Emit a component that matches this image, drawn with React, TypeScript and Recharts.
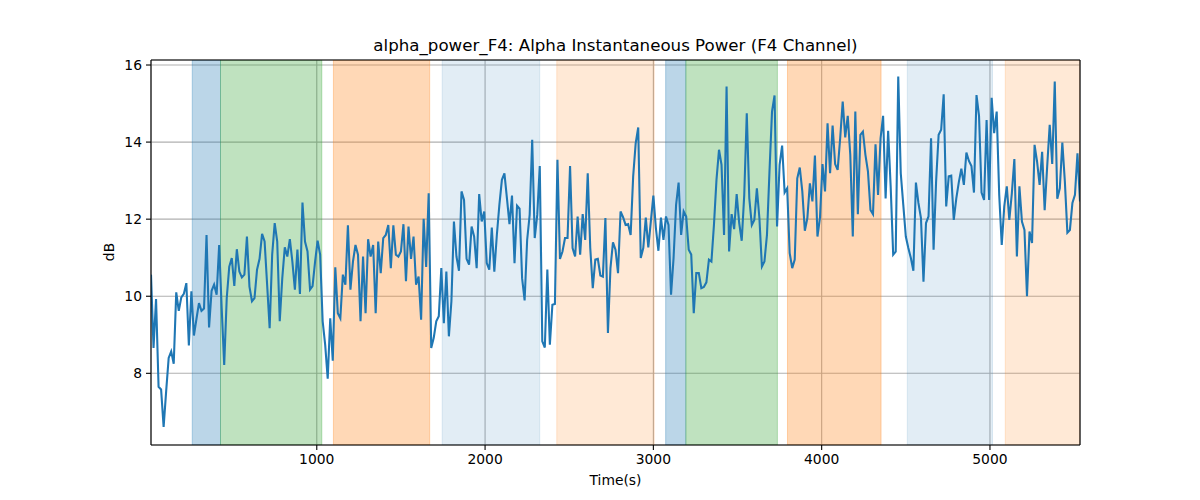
import { CartesianGrid, Line, LineChart, ReferenceArea, ReferenceLine, XAxis, YAxis } from 'recharts';

// sampling of the alpha power trace (seconds)
const T_START = 15;
const T_STEP = 15;

// dB values, read in order from left to right
const dbSeg1 = [
  10.56, 8.66, 9.93, 7.65, 7.58, 6.61, 7.53, 8.4, 8.57, 8.25, 10.1, 9.62, 9.97, 10.06, 10.34, 8.72,
  10.13, 8.98, 9.41, 9.82, 9.62, 9.68, 11.59, 9.19, 10.14, 10.3, 10.04, 11.33, 9.69, 8.22, 9.95, 10.77,
  10.99, 10.27, 11.22, 10.64, 10.49, 10.56, 11.55, 10.25, 9.87, 9.95, 10.69, 10.97, 11.62, 11.42, 10.3, 9.17,
  11.08, 11.9, 11.42, 9.35, 10.47, 11.27, 11.03, 11.48, 10.9, 10.17, 11.21, 10.06, 12.43, 11.42, 11.16, 10.17,
];
const dbSeg2 = [
  10.26, 10.9, 11.44, 11.08, 9.35, 8.74, 7.86, 9.43, 8.33, 10.75, 9.56, 9.43, 10.56, 10.3, 11.84, 10.17,
  10.9, 11.33, 11.08, 9.35, 11.03, 9.56, 11.48, 11.03, 11.33, 9.56, 11.42, 10.6, 11.51, 11.59, 11.85, 10.73,
  11.84, 11.08, 11.03, 11.16, 11.87, 10.39, 11.81, 10.97, 11.55, 10.3, 10.51, 9.39, 12.01, 10.76, 12.67, 8.66,
  8.92, 9.35, 9.48, 10.73, 9.3, 10.64, 8.96, 9.87, 11.94, 11.03, 10.66, 12.72, 12.5, 10.97, 10.82,
];
const dbSeg3 = [
  11.81, 11.55, 10.73, 12.65, 11.94, 12.2, 10.86, 10.69, 11.78, 10.64, 11.59, 12.37, 13.02, 13.19, 12.54, 11.87,
  12.61, 10.86, 12.35, 12.27, 10.47, 9.89, 11.46, 12.11, 14.06, 11.51, 12.11, 13.38, 8.83, 8.67, 10.69, 8.74,
  9.78, 9.8, 13.54, 10.97, 11.16, 11.51, 11.51, 13.38, 11.25, 11.03, 12.07, 11.08, 12.13, 11.46, 13.19, 11.25,
  10.21, 10.95, 10.97, 10.54, 10.51, 12.03, 9.05, 10.73, 11.4, 11.21, 10.6, 12.2, 12.05, 11.85,
];
const dbSeg4 = [
  11.87, 11.59, 13.11, 13.97, 14.38, 10.99, 11.25, 12.04, 11.27, 11.94, 12.61, 11.77, 11.18, 12.04, 11.46, 12.07,
  11.85, 10.04, 10.99, 12.37, 12.95, 11.59, 12.2, 12.07, 11.21, 11.08, 9.56, 10.6, 10.6, 10.21, 10.24, 10.36,
  10.95, 10.9, 11.85, 13.02, 13.8, 13.41, 11.59, 15.44, 11.16, 12.13, 11.74, 12.65, 11.9, 11.44, 12.63, 14.75,
  12.54, 11.85, 11.98, 12.8, 12.03, 10.77, 10.9, 11.59, 13.24, 14.79, 15.21,
];
const dbSeg5 = [
  11.81, 13.41, 13.91, 12.69, 12.8, 11.12, 10.73, 10.95, 13.06, 13.34, 12.72, 11.7, 12.03, 12.93, 12.46, 13.65,
  11.55, 12.04, 13.43, 12.72, 14.49, 13.19, 14.43, 13.43, 13.28, 14.1, 15.05, 14.12, 14.68, 13.67, 11.55, 14.79,
  12.13, 14.19, 14.27, 13.67, 13.24, 12.24, 12.13, 13.94, 12.63, 14.1, 14.68, 12.54, 14.29, 12.85, 11.08, 11.16,
  15.7, 13.19, 12.37, 11.55, 11.25, 10.99, 10.66, 12.95, 12.42, 12.03, 10.38,
];
const dbSeg6 = [
  11.9, 12.07, 14.1, 11.21, 12.98, 14.19, 14.32, 15.24, 12.33, 13.11, 13.13, 11.98, 12.54, 12.96, 13.31, 12.89,
  13.73, 13.51, 13.38, 12.69, 15.22, 14.68, 12.69, 12.5, 14.57, 12.5, 15.15, 14.23, 14.79, 12.63, 11.33, 12.33,
  12.85, 11.98, 12.67, 13.56, 11.03, 12.85, 11.94, 11.72, 10.0, 11.68, 11.38, 13.93, 13.49, 12.89, 13.75, 12.23,
  13.37, 14.45, 13.43, 15.57, 12.53, 12.8, 13.99, 12.98, 11.65, 11.72, 12.42, 12.63, 13.71, 12.46,
];

// shaded phases
const bandStart = [260, 428, 1099, 1745, 2426, 3073, 3193, 3797, 4509, 5091];
const bandEnd = [428, 1030, 1671, 2325, 3005, 3193, 3737, 4353, 5015, 5535];
const bandKind = ['blue', 'green', 'orange', 'paleBlue', 'paleOrange', 'blue', 'green', 'orange', 'paleBlue', 'paleOrange'];

const xTicks = [1000, 2000, 3000, 4000, 5000];
const yTicks = [8, 10, 12, 14, 16];
const X_MIN = 15;
const X_MAX = 5535;
const Y_MIN = 6.14;
const Y_MAX = 16.13;

const BAND_STYLE: Record<string, { fill: string; opacity: number }> = {
  blue: { fill: '#1f77b4', opacity: 0.3 },
  green: { fill: '#2ca02c', opacity: 0.3 },
  orange: { fill: '#ff7f0e', opacity: 0.3 },
  paleBlue: { fill: '#1f77b4', opacity: 0.13 },
  paleOrange: { fill: '#ff7f0e', opacity: 0.17 },
};

const FONT = '"DejaVu Sans", sans-serif';

const series = [...dbSeg1, ...dbSeg2, ...dbSeg3, ...dbSeg4, ...dbSeg5, ...dbSeg6];
const data = series.map((db, i) => ({ t: T_START + i * T_STEP, db }));

export default function App() {
  return (
    <div
      style={{
        position: 'absolute',
        left: 0,
        top: 0,
        width: 1200,
        height: 500,
        background: '#fff',
        fontFamily: FONT,
        color: '#000',
      }}
    >
      <div
        style={{
          position: 'absolute',
          left: 151,
          width: 929,
          top: 38,
          textAlign: 'center',
          fontSize: 16.67,
          lineHeight: 1,
          whiteSpace: 'nowrap',
        }}
      >
        alpha_power_F4: Alpha Instantaneous Power (F4 Channel)
      </div>
      <div
        style={{
          position: 'absolute',
          left: 151,
          width: 929,
          top: 474,
          textAlign: 'center',
          fontSize: 13.89,
          lineHeight: 1,
        }}
      >
        Time(s)
      </div>
      <div
        style={{
          position: 'absolute',
          left: 110,
          top: 252,
          fontSize: 13.89,
          lineHeight: 1,
          transform: 'translate(-50%, -50%) rotate(-90deg)',
        }}
      >
        dB
      </div>
      <LineChart
        width={1200}
        height={500}
        data={data}
        margin={{ top: 60, right: 120, bottom: 0, left: 91 }}
      >
        <CartesianGrid stroke="#b0b0b0" strokeWidth={1.1} />
        {bandStart.map((x1, i) => (
          <ReferenceArea
            key={i}
            x1={x1}
            x2={bandEnd[i]}
            y1={Y_MIN}
            y2={Y_MAX}
            fill={BAND_STYLE[bandKind[i]].fill}
            fillOpacity={BAND_STYLE[bandKind[i]].opacity}
            stroke={BAND_STYLE[bandKind[i]].fill}
            strokeOpacity={BAND_STYLE[bandKind[i]].opacity}
            ifOverflow="hidden"
          />
        ))}
        <XAxis
          type="number"
          dataKey="t"
          domain={[X_MIN, X_MAX]}
          ticks={xTicks}
          interval={0}
          allowDataOverflow
          height={55}
          tickSize={5}
          tickMargin={4}
          axisLine={{ stroke: '#000', strokeWidth: 1.1 }}
          tickLine={{ stroke: '#000', strokeWidth: 1.1 }}
          tick={{ fill: '#000', fontSize: 13.89, fontFamily: FONT }}
        />
        <YAxis
          type="number"
          domain={[Y_MIN, Y_MAX]}
          ticks={yTicks}
          interval={0}
          allowDataOverflow
          width={60}
          tickSize={5}
          tickMargin={4}
          axisLine={{ stroke: '#000', strokeWidth: 1.1 }}
          tickLine={{ stroke: '#000', strokeWidth: 1.1 }}
          tick={{ fill: '#000', fontSize: 13.89, fontFamily: FONT }}
        />
        <Line
          type="linear"
          dataKey="db"
          stroke="#1f77b4"
          strokeWidth={2.08}
          dot={false}
          activeDot={false}
          isAnimationActive={false}
        />
        <ReferenceLine y={Y_MAX} stroke="#000" strokeWidth={1.1} />
        <ReferenceLine x={X_MAX} stroke="#000" strokeWidth={1.1} />
      </LineChart>
    </div>
  );
}
